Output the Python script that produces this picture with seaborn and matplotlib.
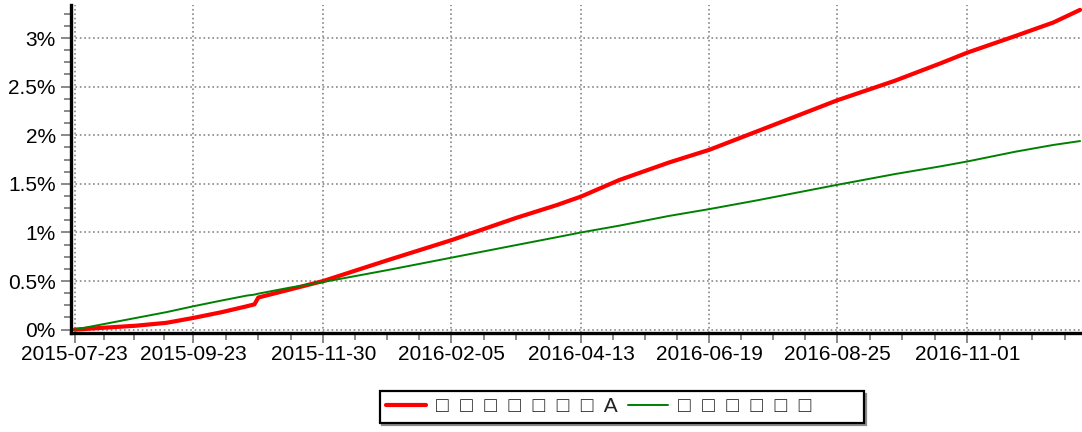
import numpy as np
import pandas as pd
import seaborn as sns
import matplotlib.pyplot as plt
import matplotlib.dates as mdates
from matplotlib.ticker import FuncFormatter, MultipleLocator

# values (cumulative return, in %)
dates = ['2015-07-23', '2015-08-08', '2015-08-24', '2015-09-09', '2015-09-23',
         '2015-10-08', '2015-10-21', '2015-10-25', '2015-10-27', '2015-11-12',
         '2015-11-30', '2016-01-02', '2016-02-05', '2016-03-10', '2016-03-31',
         '2016-04-13', '2016-05-03', '2016-05-29', '2016-06-19', '2016-07-14',
         '2016-08-25', '2016-09-24', '2016-10-18', '2016-11-01', '2016-11-26',
         '2016-12-16', '2016-12-30']
strategy_a = [0.00, 0.02, 0.04, 0.07, 0.12, 0.18, 0.24, 0.26, 0.33, 0.41,
              0.50, 0.71, 0.92, 1.15, 1.28, 1.37, 1.54, 1.72, 1.85, 2.04,
              2.36, 2.56, 2.74, 2.85, 3.02, 3.16, 3.29]
benchmark = [0.00, 0.06, 0.12, 0.18, 0.24, 0.30, 0.35, 0.36, 0.37, 0.43,
             0.49, 0.61, 0.74, 0.87, 0.95, 1.00, 1.07, 1.17, 1.24, 1.33,
             1.49, 1.60, 1.68, 1.73, 1.83, 1.90, 1.94]
tick_dates = ['2015-07-23', '2015-09-23', '2015-11-30', '2016-02-05',
              '2016-04-13', '2016-06-19', '2016-08-25', '2016-11-01']

label_a = '□  □  □  □  □  □  □  A'
label_b = '□  □  □  □  □  □'

df = pd.DataFrame({'date': pd.to_datetime(dates), 'a': strategy_a, 'b': benchmark})

sns.set_style('white')
plt.rcParams['font.family'] = ['Liberation Sans', 'DejaVu Sans']

fig = plt.figure(figsize=(10.82, 4.32), dpi=100)
ax = fig.add_axes([71 / 1082, 1 - 333 / 432, 1 - 71 / 1082, 328 / 432])

sns.lineplot(data=df, x='date', y='a', color='#ff0000', linewidth=3.0, label=label_a, ax=ax)
sns.lineplot(data=df, x='date', y='b', color='#008000', linewidth=1.4, label=label_b, ax=ax)

ax.set_xlim(pd.Timestamp('2015-07-21'), pd.Timestamp('2016-12-31'))
ax.set_ylim(-0.035, 3.34)

# x ticks: fixed dates, three minor ticks between each pair
majors = mdates.date2num(pd.to_datetime(tick_dates))
minors = []
for a, b in zip(majors[:-1], majors[1:]):
    minors += list(np.linspace(a, b, 5)[1:-1])
step = majors[-1] - majors[-2]
minors += [majors[-1] + step * k / 4 for k in range(1, 4)]
ax.set_xticks(majors)
ax.set_xticks(minors, minor=True)
ax.xaxis.set_major_formatter(mdates.DateFormatter('%Y-%m-%d'))

ax.yaxis.set_major_locator(MultipleLocator(0.5))
ax.yaxis.set_minor_locator(MultipleLocator(0.125))
ax.yaxis.set_major_formatter(FuncFormatter(lambda v, p: f'{v:g}%'))

ax.tick_params(which='major', length=7, width=1.4, color='#888888',
               labelsize=15, labelcolor='black', direction='out')
ax.tick_params(axis='x', which='major', pad=2)
ax.tick_params(axis='y', which='major', pad=4)
ax.tick_params(which='minor', length=5, width=1.4, color='#888888', direction='out')
ax.tick_params(bottom=True, left=True, which='both')

ax.set_xlabel('')
ax.set_ylabel('')
ax.grid(True, which='major', linestyle=':', color='#888888', linewidth=1.2)
ax.set_axisbelow(True)

for side in ['top', 'right']:
    ax.spines[side].set_visible(False)
for side in ['left', 'bottom']:
    ax.spines[side].set_linewidth(2.4)
    ax.spines[side].set_color('black')

ax.get_legend().remove()
handles, labels = ax.get_legend_handles_labels()
labels[1] = labels[1] + '        '
leg = fig.legend(handles, labels, loc='center', bbox_to_anchor=(0.5745, 0.058),
                 ncol=2, fontsize=15, frameon=True, fancybox=False,
                 shadow={'color': '#8c8c8c', 'alpha': 1.0},
                 handlelength=1.9, handletextpad=0.5, columnspacing=0.5,
                 borderpad=0.3, borderaxespad=0)
leg.get_frame().set_edgecolor('black')
leg.get_frame().set_linewidth(1.6)
for t in leg.get_texts():
    t.set_color('#222222')

fig.savefig('out.png', dpi=100)
